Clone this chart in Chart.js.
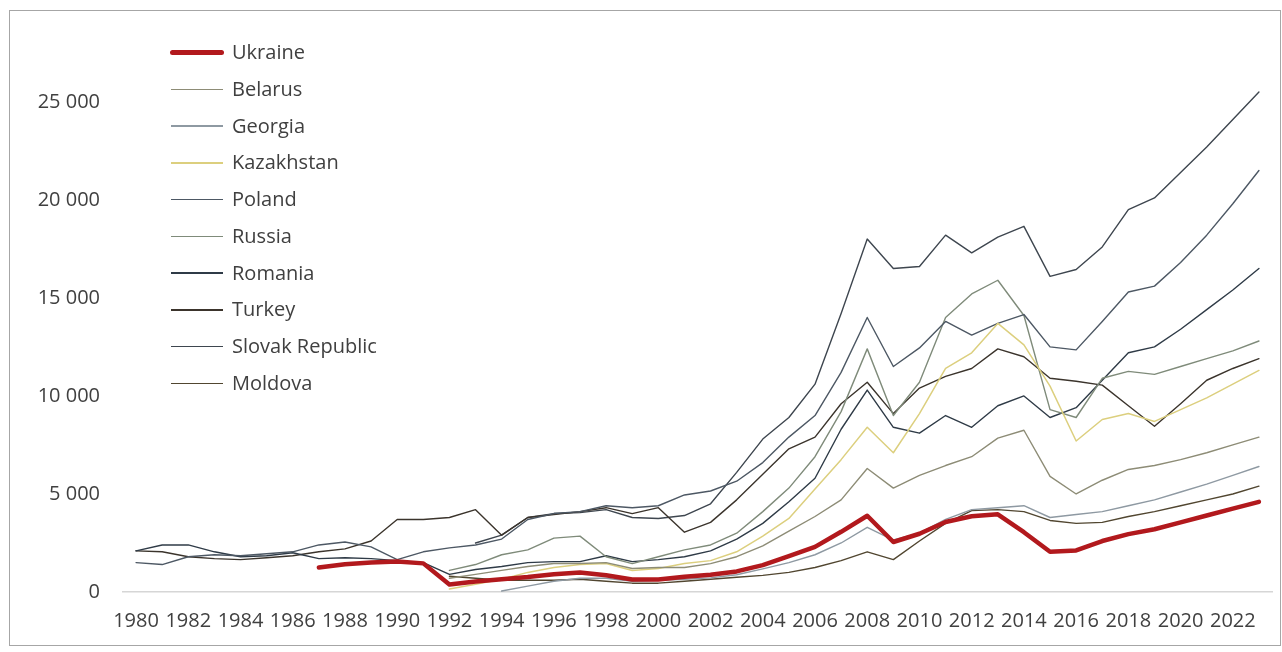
<!DOCTYPE html>
<html><head><meta charset="utf-8">
<script src="https://cdn.jsdelivr.net/npm/chart.js@4.4.1/dist/chart.umd.min.js"></script>
<style>
html,body{margin:0;padding:0;background:#fff;}
#wrap{position:relative;width:1282px;height:652px;overflow:hidden;background:#fff;}
#c{position:absolute;left:0;top:0;}
#frame{position:absolute;left:9px;top:10px;width:1272px;height:636px;border:1px solid #a6a6a6;box-sizing:border-box;pointer-events:none;}
#legend{position:absolute;left:0;top:0;width:0;height:0;font-family:'Open Sans',sans-serif;font-size:20px;color:#404040;}
.item{position:absolute;left:170px;height:24px;line-height:24px;white-space:nowrap;}
.sw{position:absolute;left:1px;width:52px;}
.lbl{position:absolute;left:62px;top:0;}
</style></head>
<body>
<div id="wrap"><canvas id="c" width="1282" height="652"></canvas><div id="frame"></div><div id="legend"></div></div>
<script>
const years = ['1980','1981','1982','1983','1984','1985','1986','1987','1988','1989',
  '1990','1991','1992','1993','1994','1995','1996','1997','1998','1999',
  '2000','2001','2002','2003','2004','2005','2006','2007','2008','2009',
  '2010','2011','2012','2013','2014','2015','2016','2017','2018','2019',
  '2020','2021','2022','2023'];
const seriesNames = ['Ukraine','Belarus','Georgia','Kazakhstan','Poland','Russia','Romania','Turkey','Slovak Republic','Moldova'];
const yTicks = [0, 5000, 10000, 15000, 20000, 25000];
const _ = null;
const ukraine = [_,_,_,_,_,_,_,1250,1420,1500,1550,1460,380,540,650,760,900,1000,850,640,640,780,880,1050,1370,1830,2300,3070,3890,2550,2970,3570,3860,3960,3050,2050,2120,2600,2950,3200,3550,3900,4250,4600];
const belarus = [_,_,_,_,_,_,_,_,_,_,_,_,700,900,1100,1300,1450,1450,1500,1200,1250,1250,1450,1800,2350,3100,3850,4700,6300,5300,5950,6450,6900,7850,8250,5900,5000,5700,6250,6450,6750,7100,7500,7900];
const georgia = [_,_,_,_,_,_,_,_,_,_,_,_,_,_,50,300,550,700,700,550,600,650,720,880,1180,1500,1900,2500,3300,2650,3000,3700,4200,4300,4400,3800,3950,4100,4400,4700,5100,5500,5950,6400];
const kazakhstan = [_,_,_,_,_,_,_,_,_,_,_,_,150,400,650,1000,1250,1400,1450,1100,1200,1450,1600,2050,2850,3750,5250,6750,8400,7100,9100,11400,12200,13700,12600,10500,7700,8800,9100,8700,9300,9900,10600,11300];
const poland = [1500,1400,1800,1900,1850,1950,2050,2400,2550,2300,1650,2050,2250,2400,2700,3700,4000,4100,4400,4300,4400,4950,5150,5650,6600,7900,9000,11200,14000,11500,12450,13800,13100,13700,14150,12500,12350,13800,15300,15600,16800,18200,19800,21500];
const russia = [_,_,_,_,_,_,_,_,_,_,_,_,1100,1400,1900,2150,2750,2850,1800,1450,1800,2150,2400,3000,4100,5300,6900,9200,12400,9000,10700,14000,15200,15900,14100,9300,8900,10900,11250,11100,11500,11900,12300,12800];
const romania = [2100,2400,2400,2050,1800,1850,2000,1700,1750,1700,1600,1500,900,1150,1300,1500,1550,1550,1850,1550,1650,1800,2100,2700,3500,4600,5800,8300,10300,8400,8100,9000,8400,9500,10000,8900,9400,10800,12200,12500,13400,14400,15400,16500];
const turkey = [2100,2050,1800,1700,1650,1750,1850,2050,2200,2600,3700,3700,3800,4200,2900,3800,3950,4100,4300,4000,4300,3050,3550,4700,6000,7300,7900,9600,10700,9100,10400,11000,11400,12400,12000,10900,10750,10550,9500,8450,9600,10800,11400,11900];
const slovak = [_,_,_,_,_,_,_,_,_,_,_,_,_,2500,2900,3800,4000,4050,4200,3800,3750,3900,4500,6100,7800,8900,10600,14200,18000,16500,16600,18200,17300,18100,18650,16100,16450,17600,19500,20100,21400,22700,24100,25500];
const moldova = [_,_,_,_,_,_,_,_,_,_,_,_,800,700,600,600,600,650,550,450,450,550,650,750,850,1000,1250,1600,2050,1650,2600,3500,4150,4200,4100,3650,3500,3550,3850,4100,4400,4700,5000,5400];

const seriesValues = [ukraine, belarus, georgia, kazakhstan, poland, russia, romania, turkey, slovak, moldova];
const seriesColors = ['#b2191d','#8d8c76','#8e99a2','#dccf7e','#4d5864','#7f8b7a','#2f3b47','#3b342c','#3e464f','#514630'];
const seriesWidths = [4.5,1.4,1.4,1.5,1.4,1.4,1.4,1.4,1.4,1.4];

function fmt(v){ return String(v).replace(/\B(?=(\d{3})+(?!\d))/g, ' '); }

const datasets = seriesNames.map((n, i) => ({
  label: n,
  data: seriesValues[i],
  borderColor: seriesColors[i],
  backgroundColor: seriesColors[i],
  borderWidth: seriesWidths[i],
  pointRadius: 0,
  pointHoverRadius: 0,
  tension: 0,
  fill: false,
  spanGaps: false,
  borderCapStyle: 'round',
  borderJoinStyle: 'round',
  order: i === 0 ? 0 : 1
}));

const tickFont = {family: "'Open Sans', sans-serif", size: 20};

const chart = new Chart(document.getElementById('c'), {
  type: 'line',
  data: {labels: years, datasets: datasets},
  options: {
    responsive: false,
    animation: false,
    layout: {padding: {left: 10, right: 10, top: 43, bottom: 0}},
    plugins: {legend: {display: false}, tooltip: {enabled: false}},
    scales: {
      x: {
        type: 'category',
        offset: true,
        grid: {display: false, drawTicks: false},
        border: {display: true, color: '#d6d6d6', width: 1.5},
        ticks: {
          autoSkip: false, maxRotation: 0, minRotation: 0, padding: 17,
          color: '#404040', font: tickFont,
          callback: function(v) {
            const l = this.getLabelForValue(v);
            return (Number(l) - 1980) % 2 === 0 ? l : '';
          }
        },
        afterFit: s => { s.height = 60; }
      },
      y: {
        min: 0, max: 28000,
        grid: {display: false, drawTicks: false},
        border: {display: false},
        ticks: {stepSize: 5000, padding: 23, color: '#404040', font: tickFont, callback: v => fmt(v)},
        afterBuildTicks: s => { s.ticks = yTicks.map(v => ({value: v})); },
        afterFit: s => { s.width = 113; }
      }
    }
  }
});

// Legend (inside the plot, top-left)
const leg = document.getElementById('legend');
chart.data.datasets.forEach((ds, i) => {
  const cy = 52.7 + i * 36.75;
  const item = document.createElement('div');
  item.className = 'item';
  item.style.top = (cy - 12.5) + 'px';
  const sw = document.createElement('span');
  sw.className = 'sw';
  const lw = i === 0 ? 5 : 1.6;
  sw.style.height = lw + 'px';
  sw.style.top = (12.5 - lw / 2) + 'px';
  sw.style.background = ds.borderColor;
  if (i === 0) { sw.style.borderRadius = '3px'; sw.style.left = '0px'; sw.style.width = '54px'; }
  const lb = document.createElement('span');
  lb.className = 'lbl';
  lb.textContent = ds.label;
  item.appendChild(sw);
  item.appendChild(lb);
  leg.appendChild(item);
});
</script>
</body></html>
